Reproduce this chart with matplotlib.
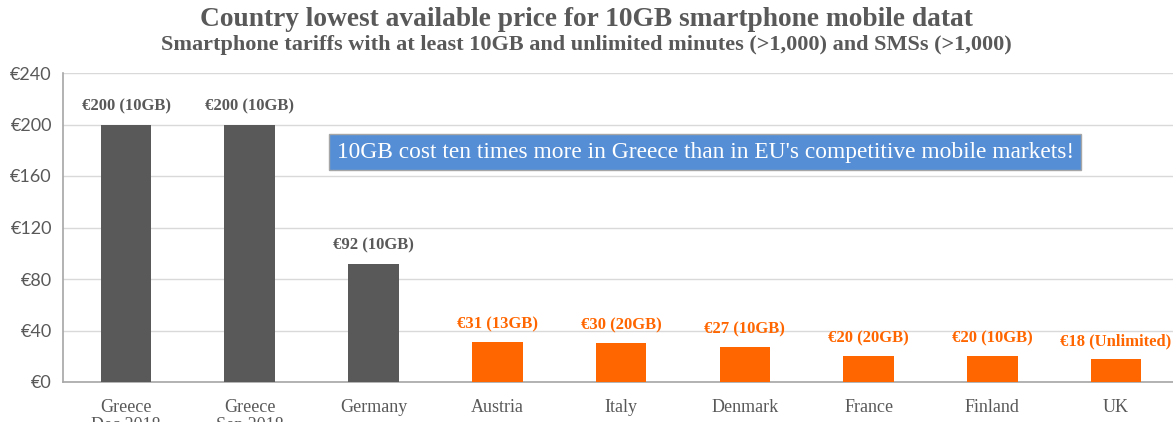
"""Country lowest available price for 10GB smartphone mobile data - bar chart."""

import matplotlib
matplotlib.use("Agg")
import matplotlib.pyplot as plt
from matplotlib.ticker import FuncFormatter

PAISES = ["Greece\nDec 2018", "Greece\nSep 2018", "Germany", "Austria", "Italy",
          "Denmark", "France", "Finland", "UK"]
PRECIOS = [200, 200, 92, 31, 30, 27, 20, 20, 18]
VOLUMEN = ["10GB", "10GB", "10GB", "13GB", "20GB", "10GB", "20GB", "10GB", "Unlimited"]
GRUPO = ["alto", "alto", "alto", "bajo", "bajo", "bajo", "bajo", "bajo", "bajo"]
TICKS_Y = [0, 40, 80, 120, 160, 200, 240]

COLORES = {"alto": "#595959", "bajo": "#FF6600"}
GRIS = "#595959"
SERIF = "Liberation Serif"


def main():
    fig = plt.figure(figsize=(11.73, 4.22), dpi=100)
    ax = fig.add_axes([63 / 1173, 1 - 382 / 422, 1115 / 1173, 309 / 422])

    x = list(range(len(PAISES)))
    colores = [COLORES[g] for g in GRUPO]
    ax.bar(x, PRECIOS, width=0.41, color=colores, zorder=3)

    for xi, v, vol, c in zip(x, PRECIOS, VOLUMEN, colores):
        ax.annotate(f"€{v} ({vol})", (xi, v), xytext=(0, 7), textcoords="offset points",
                    ha="center", va="bottom", fontsize=12, fontweight="bold",
                    color=c, family=SERIF)

    ax.set_xlim(-0.51, 8.5)
    ax.set_ylim(0, 240)
    ax.set_yticks(TICKS_Y)
    ax.yaxis.set_major_formatter(FuncFormatter(lambda v, _: f"€{v:.0f}"))
    ax.grid(axis="y", color="#d9d9d9", linewidth=1, zorder=0)
    ax.set_xticks(x)
    ax.set_xticklabels(PAISES, family=SERIF, fontsize=13, color=GRIS, linespacing=1.1)
    ax.tick_params(axis="x", length=0, pad=12)
    ax.tick_params(axis="y", length=0, pad=8, labelsize=13, labelcolor=GRIS)
    for lbl in ax.get_yticklabels():
        lbl.set_family("Lato")
    for lado in ["top", "right"]:
        ax.spines[lado].set_visible(False)
    for lado in ["left", "bottom"]:
        ax.spines[lado].set_color("#a6a6a6")
        ax.spines[lado].set_linewidth(1.2)

    ax.text(4.68, 178.5, "10GB cost ten times more in Greece than in EU's competitive mobile markets!",
            ha="center", va="center", fontsize=16.8, color="white", family=SERIF, zorder=5,
            bbox=dict(boxstyle="square,pad=0.32", facecolor="#558ED5", edgecolor="#a6a6a6"))

    fig.text(0.5, 1 - 20 / 422, "Country lowest available price for 10GB smartphone mobile datat",
             ha="center", va="center", fontsize=19.7, fontweight="bold", color=GRIS, family=SERIF)
    fig.text(0.5, 1 - 45 / 422,
             "Smartphone tariffs with at least 10GB and unlimited minutes (>1,000) and SMSs (>1,000)",
             ha="center", va="center", fontsize=16, fontweight="bold", color=GRIS, family=SERIF)

    fig.savefig("out.png", dpi=100)
    plt.close(fig)


if __name__ == "__main__":
    main()
